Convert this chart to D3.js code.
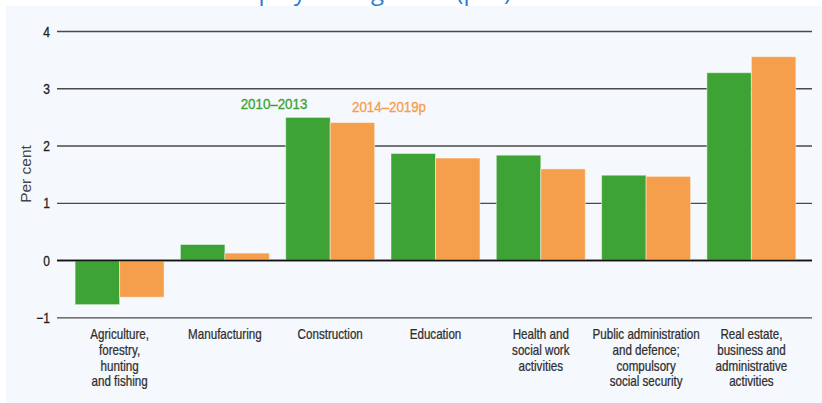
<!DOCTYPE html>
<html>
<head>
<meta charset="utf-8">
<script src="https://cdn.jsdelivr.net/npm/d3@7"></script>
<style>
  html, body { margin: 0; padding: 0; background: #ffffff; }
  svg { display: block; }
  .cond { font-family: "Liberation Sans", Arial, sans-serif; }
</style>
</head>
<body>
<svg id="chart" width="822" height="403"></svg>
<script>
const categories = [
  ["Agriculture,", "forestry,", "hunting", "and fishing"],
  ["Manufacturing"],
  ["Construction"],
  ["Education"],
  ["Health and", "social work", "activities"],
  ["Public administration", "and defence;", "compulsory", "social security"],
  ["Real estate,", "business and", "administrative", "activities"]
];
const seriesNames = ["2010–2013", "2014–2019p"];
const series2010_2013 = [-0.77, 0.28, 2.50, 1.87, 1.84, 1.49, 3.28];
const series2014_2019 = [-0.64, 0.13, 2.41, 1.79, 1.60, 1.47, 3.56];
const yTicks = [-1, 0, 1, 2, 3, 4];
const colors = ["#3da335", "#f59f4d"];

const svg = d3.select("#chart");
const W = 822, H = 403;
const SX = 0.83; // horizontal squeeze to mimic condensed face

// title (clipped at top, as in the reference)
svg.append("text")
  .attr("x", 223).attr("y", 0)
  .attr("font-family", "'Open Sans', sans-serif")
  .attr("font-size", 24)
  .attr("fill", "#2b7bd0")
  .text("Employment growth (p.a.)");

// panel background
svg.append("rect")
  .attr("x", 6).attr("y", 6).attr("width", W - 6).attr("height", H - 6)
  .attr("fill", "#f5f8fc");

const y = d3.scaleLinear().domain([-1, 4]).range([317.8, 31.5]);
const x0 = d3.scaleBand().domain(d3.range(categories.length)).range([67, 804]).paddingInner(0.155).paddingOuter(0.077);
const x1 = d3.scaleBand().domain([0, 1]).range([0, x0.bandwidth()]);

// gridlines
svg.append("g").selectAll("line").data(yTicks).join("line")
  .attr("x1", 57).attr("x2", 812)
  .attr("y1", d => y(d)).attr("y2", d => y(d))
  .attr("stroke", d => d === 0 ? "#111" : "#4a4a4a")
  .attr("stroke-width", d => d === 0 ? 1.4 : 1.3);

// tick labels
svg.append("g").selectAll("text").data(yTicks).join("text")
  .attr("class", "cond")
  .attr("text-anchor", "end")
  .attr("font-size", 14.5)
  .attr("fill", "#222").attr("stroke", "#222").attr("stroke-width", 0.3)
  .attr("transform", d => `translate(50,${y(d) + 5}) scale(${SX},1)`)
  .text(d => d < 0 ? "\u2212" + Math.abs(d) : d);

// bars
const data = [series2010_2013, series2014_2019];
const groups = svg.append("g").selectAll("g").data(categories.map((c, i) => i)).join("g")
  .attr("transform", i => `translate(${x0(i)},0)`);
groups.selectAll("rect").data(i => data.map((s, k) => ({k, v: s[i]}))).join("rect")
  .attr("x", d => x1(d.k))
  .attr("width", x1.bandwidth())
  .attr("y", d => Math.min(y(d.v), y(0)))
  .attr("height", d => Math.abs(y(d.v) - y(0)))
  .attr("fill", d => colors[d.k])
  .attr("stroke", "rgba(255,255,255,0.45)")
  .attr("stroke-width", 1);

// redraw zero line on top
svg.append("line").attr("x1", 57).attr("x2", 812).attr("y1", y(0)).attr("y2", y(0))
  .attr("stroke", "#111").attr("stroke-width", 1.4);

// category labels
const lab = svg.append("g").selectAll("text").data(categories).join("text")
  .attr("class", "cond")
  .attr("text-anchor", "middle")
  .attr("font-size", 14)
  .attr("fill", "#2e2e2e").attr("stroke", "#2e2e2e").attr("stroke-width", 0.25)
  .attr("transform", (d, i) => `translate(${x0(i) + x0.bandwidth() / 2},339) scale(${SX},1)`);
lab.selectAll("tspan").data(d => d).join("tspan")
  .attr("x", 0).attr("dy", (d, j) => j === 0 ? 0 : 15.8).text(d => d);

// legend labels
svg.append("text").attr("class", "cond")
  .attr("transform", `translate(274,109) scale(0.86,1)`)
  .attr("text-anchor", "middle").attr("font-size", 15.5)
  .attr("fill", colors[0]).attr("stroke", colors[0]).attr("stroke-width", 0.35)
  .text(seriesNames[0]);
svg.append("text").attr("class", "cond")
  .attr("transform", `translate(389,112) scale(0.86,1)`)
  .attr("text-anchor", "middle").attr("font-size", 15.5)
  .attr("fill", colors[1]).attr("stroke", colors[1]).attr("stroke-width", 0.35)
  .text(seriesNames[1]);

// y title
svg.append("text")
  .attr("transform", "translate(31,174) rotate(-90)")
  .attr("text-anchor", "middle")
  .attr("font-family", "'Liberation Sans', Arial, sans-serif")
  .attr("font-size", 15.5).attr("fill", "#444")
  .text("Per cent");
</script>
</body>
</html>
